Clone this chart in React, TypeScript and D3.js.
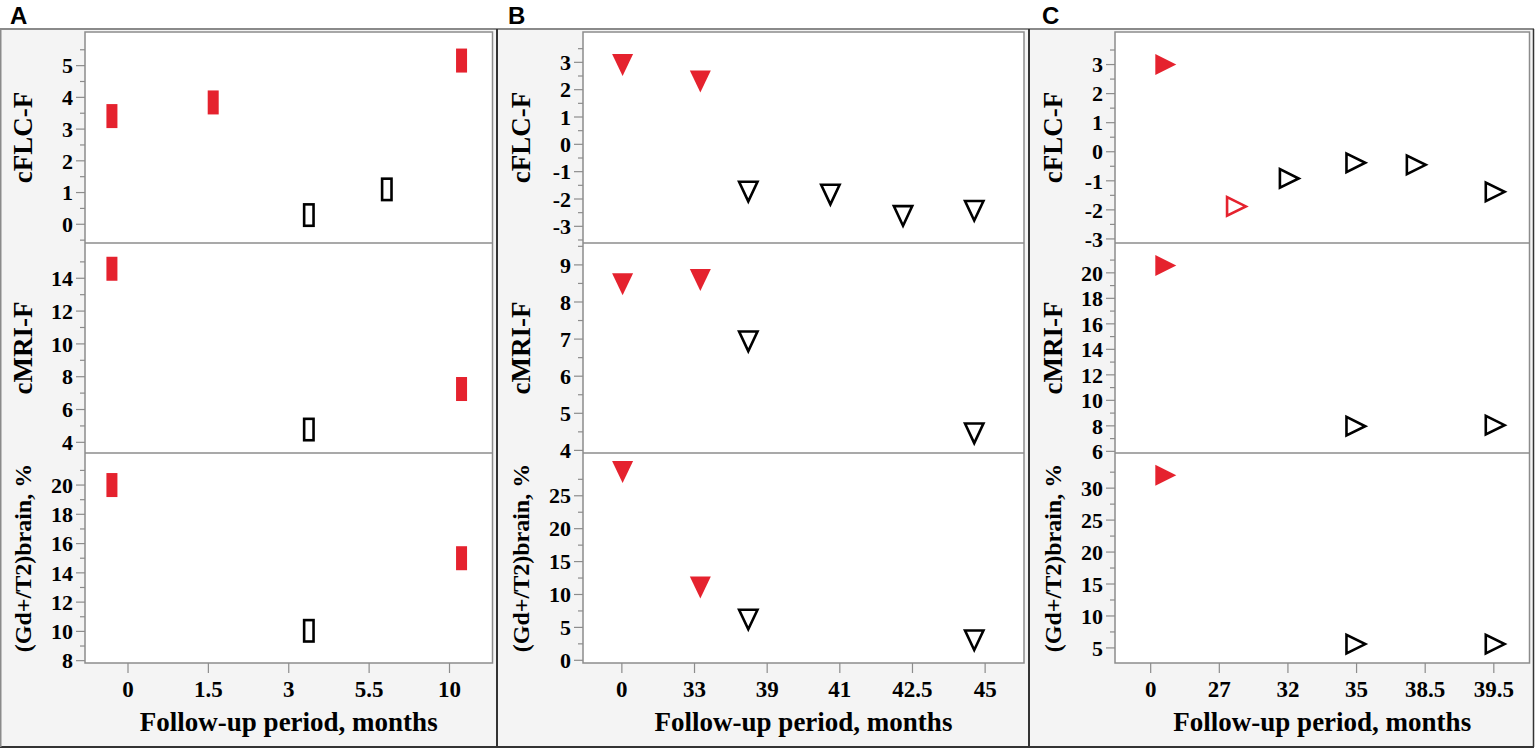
import React from "react";
import * as d3 from "d3";

// ---------- data ----------
const measures = ["cFLC-F", "cMRI-F", "(Gd+/T2)brain, %"];
const xTitle = "Follow-up period, months";

// Panel A
const catsA = ["0", "1.5", "3", "5.5", "10"];
const jitterA = [-0.2, 0.06, 0.25, 0.22, 0.15];
const statusA = ["active", "active", "remission", "remission", "active"];
const cflcA = [3.41, 3.84, 0.29, 1.1, 5.16];
const cmriA = [14.58, null, 4.78, null, 7.25];
const gdA = [20.0, null, 10.04, null, 15.0];
const domainsA = [[-0.59, 6.06], [3.35, 16.15], [7.84, 22.19]];
const majorA = [[0, 1, 2, 3, 4, 5], [4, 6, 8, 10, 12, 14], [8, 10, 12, 14, 16, 18, 20]];
const minorA = [[-0.5, 0.5, 1.5, 2.5, 3.5, 4.5, 5.5], [5, 7, 9, 11, 13, 15], [9, 11, 13, 15, 17, 19, 21]];

// Panel B
const catsB = ["0", "33", "39", "41", "42.5", "45"];
const jitterB = [0.01, 0.08, -0.26, -0.13, -0.13, -0.15];
const statusB = ["active", "active", "remission", "remission", "remission", "remission"];
const cflcB = [2.9, 2.3, -1.73, -1.84, -2.62, -2.43];
const cmriB = [8.48, 8.59, 6.94, null, null, 4.46];
const gdB = [28.6, 11.05, 6.2, null, null, 3.05];
const domainsB = [[-3.61, 4.11], [3.93, 9.59], [-0.41, 31.5]];
const majorB = [[-3, -2, -1, 0, 1, 2, 3], [4, 5, 6, 7, 8, 9], [0, 5, 10, 15, 20, 25]];
const minorB = [
  [-3.5, -2.5, -1.5, -0.5, 0.5, 1.5, 2.5, 3.5],
  [4.5, 5.5, 6.5, 7.5, 8.5, 9.5],
  [2.5, 7.5, 12.5, 17.5, 22.5, 27.5],
];

// Panel C
const catsC = ["0", "27", "32", "35", "38.5", "39.5"];
const jitterC = [0.22, 0.25, 0.02, -0.01, -0.13, 0.02];
const statusC = ["active", "partial", "remission", "remission", "remission", "remission"];
const cflcC = [3.0, -1.88, -0.92, -0.38, -0.45, -1.38];
const cmriC = [20.58, null, null, 7.97, null, 8.05];
const gdC = [32.0, null, null, 5.6, null, 5.6];
const domainsC = [[-3.14, 4.12], [5.87, 22.34], [2.64, 35.5]];
const majorC = [[-3, -2, -1, 0, 1, 2, 3], [6, 8, 10, 12, 14, 16, 18, 20], [5, 10, 15, 20, 25, 30]];
const minorC = [
  [-2.5, -1.5, -0.5, 0.5, 1.5, 2.5, 3.5],
  [7, 9, 11, 13, 15, 17, 19, 21],
  [7.5, 12.5, 17.5, 22.5, 27.5, 32.5],
];

// ---------- layout / style ----------
const W = 1536;
const H = 756;
const ROWS = [32, 243, 453, 663];
const RED = "#e5222e";
const SERIF = "'Liberation Serif', 'Times New Roman', serif";
const SANS = "'Liberation Sans', Arial, sans-serif";
const GRID = "#8c8c8c";

const panels = [
  {
    letter: "A", cats: catsA, jitter: jitterA, status: statusA,
    series: [cflcA, cmriA, gdA], domains: domainsA, major: majorA, minor: minorA,
    shape: "bar", frame: [0.5, 497], plot: [85, 492.5], letterX: 10, pad: 0.535,
  },
  {
    letter: "B", cats: catsB, jitter: jitterB, status: statusB,
    series: [cflcB, cmriB, gdB], domains: domainsB, major: majorB, minor: minorB,
    shape: "down", frame: [497, 1029], plot: [583, 1024], letterX: 508, pad: 0.535,
  },
  {
    letter: "C", cats: catsC, jitter: jitterC, status: statusC,
    series: [cflcC, cmriC, gdC], domains: domainsC, major: majorC, minor: minorC,
    shape: "right", frame: [1029, 1533.5], plot: [1115, 1529.5], letterX: 1042, pad: 0.52,
  },
];

function Marker({ shape, status, x, y }) {
  const filled = status === "active";
  const color = status === "remission" ? "#000" : RED;
  const sw = 2.6;
  const fill = filled ? RED : "none";
  const stroke = filled ? "none" : color;
  if (shape === "bar") {
    const w = filled ? 11 : 12 - sw;
    const h = filled ? 24 : 24 - sw;
    return <rect x={x - w / 2} y={y - h / 2} width={w} height={h} fill={fill} stroke={stroke} strokeWidth={sw} />;
  }
  let pts;
  if (shape === "down") {
    const hw = filled ? 10.5 : 9.2;
    const hh = filled ? 11 : 9.8;
    pts = [[x - hw, y - hh], [x + hw, y - hh], [x, y + hh]];
  } else {
    const hw = filled ? 10.5 : 9.4;
    const hh = filled ? 10.5 : 9.3;
    pts = [[x - hw, y - hh], [x - hw, y + hh], [x + hw, y]];
  }
  return (
    <polygon
      points={pts.map((p) => p.join(",")).join(" ")}
      fill={fill}
      stroke={stroke}
      strokeWidth={sw}
      strokeLinejoin="miter"
    />
  );
}

function Panel({ p }) {
  const [pl, pr] = p.plot;
  const x = d3.scalePoint().domain(p.cats).range([pl, pr]).padding(p.pad);
  const step = x.step();
  const yTitleX = pl - 62;
  return (
    <g>
      <rect x={p.frame[0]} y={29} width={p.frame[1] - p.frame[0]} height={747 - 29} fill="#f4f4f4" />
      <text x={p.letterX} y={24} fontFamily={SANS} fontWeight="bold" fontSize={24} fill="#000">
        {p.letter}
      </text>
      {measures.map((m, i) => {
        const top = ROWS[i];
        const bottom = ROWS[i + 1];
        const y = d3.scaleLinear().domain(p.domains[i]).range([bottom, top]);
        const vals = p.series[i];
        return (
          <g key={m}>
            <rect x={pl} y={top} width={pr - pl} height={bottom - top} fill="#fff" />
            {p.minor[i].map((t) => (
              <line key={"mn" + t} x1={pl - 5} x2={pl} y1={y(t)} y2={y(t)} stroke={GRID} strokeWidth={1.2} />
            ))}
            {p.major[i].map((t) => (
              <g key={"mj" + t}>
                <line x1={pl - 9} x2={pl} y1={y(t)} y2={y(t)} stroke={GRID} strokeWidth={1.2} />
                <text
                  x={pl - 12}
                  y={y(t)}
                  dy="0.35em"
                  textAnchor="end"
                  fontFamily={SERIF}
                  fontWeight="bold"
                  fontSize={22}
                  fill="#000"
                >
                  {t}
                </text>
              </g>
            ))}
            <text
              transform={`translate(${yTitleX},${(top + bottom) / 2}) rotate(-90)`}
              dy="0.35em"
              textAnchor="middle"
              fontFamily={SERIF}
              fontWeight="bold"
              fontSize={i === 2 ? 24 : 27}
              fill="#000"
            >
              {m}
            </text>
            {vals.map((v, j) =>
              v == null ? null : (
                <Marker
                  key={j}
                  shape={p.shape}
                  status={p.status[j]}
                  x={x(p.cats[j]) + p.jitter[j] * step}
                  y={y(v)}
                />
              )
            )}
          </g>
        );
      })}
      {ROWS.slice(1, 3).map((r) => (
        <line key={r} x1={pl} x2={pr} y1={r} y2={r} stroke={GRID} strokeWidth={1.5} />
      ))}
      <rect x={pl} y={ROWS[0]} width={pr - pl} height={ROWS[3] - ROWS[0]} fill="none" stroke={GRID} strokeWidth={1.5} />
      {p.cats.map((c) => (
        <g key={c}>
          <line x1={x(c)} x2={x(c)} y1={ROWS[3]} y2={ROWS[3] + 10} stroke={GRID} strokeWidth={1.2} />
          <text x={x(c)} y={697} textAnchor="middle" fontFamily={SERIF} fontWeight="bold" fontSize={23} fill="#000">
            {c}
          </text>
        </g>
      ))}
      <text x={(pl + pr) / 2} y={731} textAnchor="middle" fontFamily={SERIF} fontWeight="bold" fontSize={27} fill="#000">
        {xTitle}
      </text>
    </g>
  );
}

export default function App() {
  return (
    <svg
      width={W}
      height={H}
      viewBox={`0 0 ${W} ${H}`}
      style={{ position: "absolute", left: 0, top: 0, background: "#fff" }}
    >
      <rect x={0} y={0} width={W} height={H} fill="#fff" />
      {panels.map((p) => (
        <Panel key={p.letter} p={p} />
      ))}
      <line x1={0} x2={1534} y1={29} y2={29} stroke="#8a8a8a" strokeWidth={2} />
      <line x1={0} x2={1534} y1={747} y2={747} stroke="#333" strokeWidth={2} />
      <line x1={0.75} x2={0.75} y1={29} y2={747} stroke="#8a8a8a" strokeWidth={1.5} />
      <line x1={497} x2={497} y1={29} y2={747} stroke="#333" strokeWidth={2} />
      <line x1={1029} x2={1029} y1={29} y2={747} stroke="#333" strokeWidth={2} />
      <line x1={1533.5} x2={1533.5} y1={29} y2={747} stroke="#333" strokeWidth={1.5} />
    </svg>
  );
}
